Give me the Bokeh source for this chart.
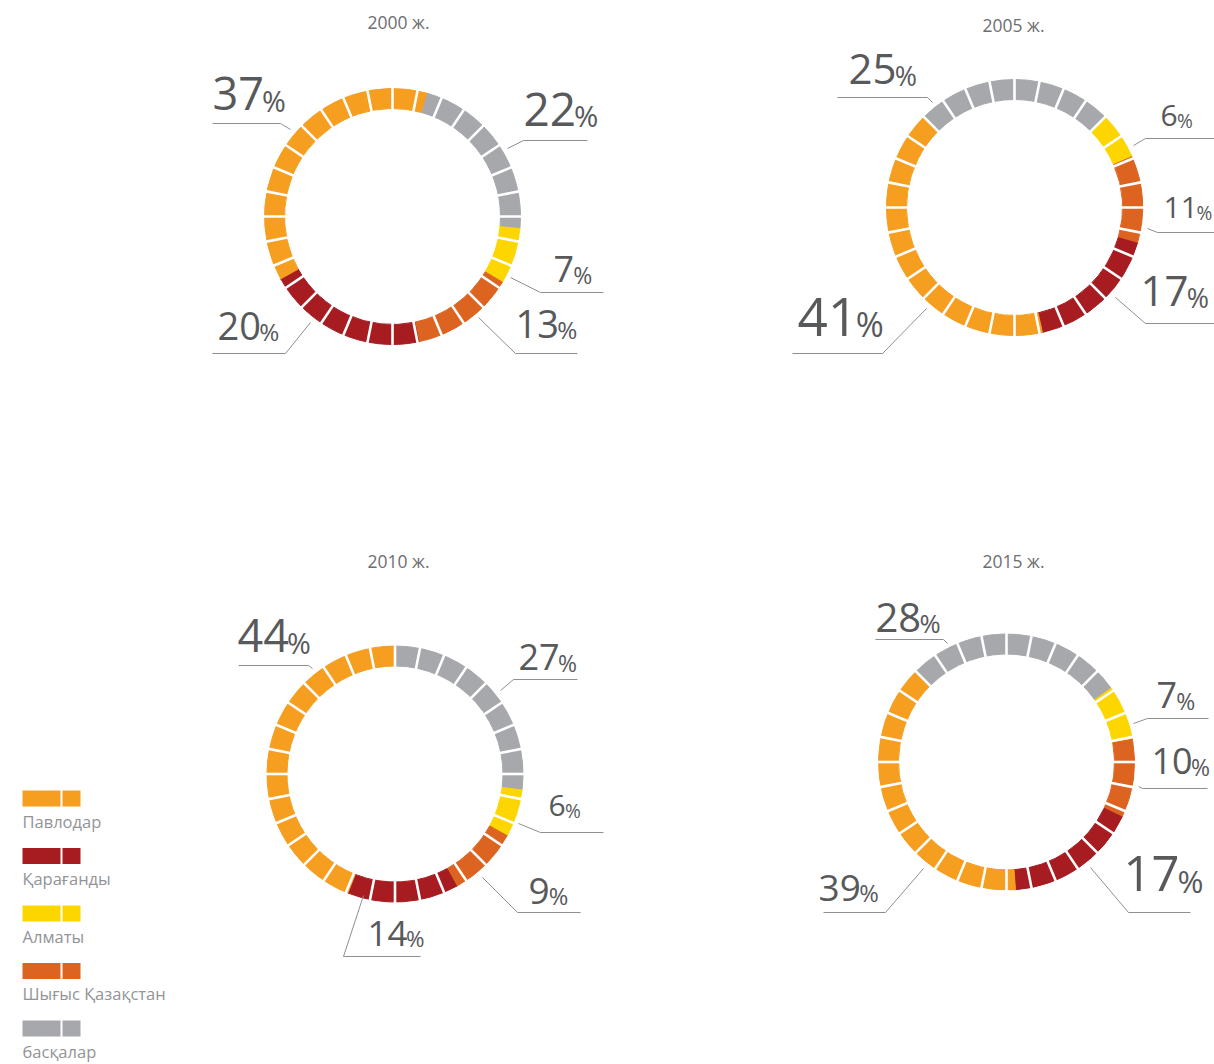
import math
from bokeh.plotting import figure
from bokeh.models import Range1d, ColumnDataSource
from bokeh.core.properties import value
from bokeh.embed import file_html
from bokeh.resources import INLINE

# ---------------- data ----------------
regions = ["Павлодар", "Қарағанды", "Алматы", "Шығыс Қазақстан", "басқалар"]
years = ["2000 ж.", "2005 ж.", "2010 ж.", "2015 ж."]
pavlodar = [37, 41, 44, 39]
karaganda = [20, 17, 14, 17]
almaty = [7, 6, 6, 7]
east_kz = [13, 11, 9, 10]
others = [22, 25, 27, 28]
series = [pavlodar, karaganda, almaty, east_kz, others]

# ---------------- style / layout ----------------
colors = ["#F59E1F", "#A61C21", "#FDD600", "#DC6420", "#A7A8AC"]
ring_order = [4, 2, 3, 1, 0]          # clockwise drawing order
n_seg = 32
r_in, r_out = 108, 128
centers = [(392, 216), (1014, 207), (394.5, 773.5), (1006, 761.5)]
start_deg = [15.4, -45.0, 0.0, -45.0]   # clockwise from 12 o'clock
title_pos = [(398, 28), (1013, 31), (398, 567), (1013, 567)]
BASE_SHIFT = 0.39   # renderer places the alphabetic baseline this far (x font size) too low

# label layout per chart, in region order: (x, baseline, font px, leader polyline)
label_layout = [
    [(212, 111, 45, [(290, 129), (280, 123), (212, 123)]),
     (217, 340, 38, [(310, 322), (285, 353), (212, 353)]),
     (553, 283, 36, [(510, 277), (540, 292), (603, 292)]),
     (515, 338, 38, [(478, 317), (515, 353), (577, 353)]),
     (523, 127, 46, [(507, 148), (523, 140), (587, 140)])],
    [(797, 337, 53, [(926, 308), (882, 353), (792, 353)]),
     (1140, 307, 42, [(1115, 297), (1145, 323), (1214, 323)]),
     (1160, 127, 30, [(1133, 145), (1145, 138), (1214, 138)]),
     (1163, 219, 30, [(1147, 228), (1157, 232), (1214, 232)]),
     (848, 85, 42, [(932, 102), (927, 97), (837, 97)])],
    [(237, 653, 45, [(312, 668), (308, 665), (238, 665)]),
     (367, 947, 35, [(363, 895), (343, 956), (420, 956)]),
     (548, 817, 30, [(518, 823), (540, 832), (603, 832)]),
     (528, 905, 37, [(482, 877), (517, 912), (580, 912)]),
     (518, 671, 36, [(500, 690), (513, 679), (577, 679)])],
    [(818, 902, 37, [(923, 868), (885, 912), (823, 912)]),
     (1123, 892, 49, [(1090, 867), (1128, 912), (1190, 912)]),
     (1156, 709, 36, [(1133, 723), (1147, 718), (1208, 718)]),
     (1151, 775, 36, [(1138, 786), (1142, 788), (1207, 788)]),
     (875, 633, 40, [(947, 643), (943, 639), (875, 639)])],
]

legend_x = 22
legend_y0 = 790
legend_step = 57.5

FONT = value("Open Sans")
W, H = 1214, 1064

p = figure(width=W, height=H, output_backend="svg", toolbar_location=None,
           x_range=Range1d(0, W), y_range=Range1d(-H, 0),
           min_border=0, outline_line_color=None)
p.axis.visible = False
p.grid.visible = False
p.background_fill_color = "white"
p.border_fill_color = "white"

# ---------------- rings ----------------
wx, wy, ws, we, wc = [], [], [], [], []
gx0, gy0, gx1, gy1 = [], [], [], []
for c in range(4):
    cx, cy = centers[c]
    vals = [series[i][c] for i in range(5)]
    total = float(sum(vals))
    theta = start_deg[c]
    for idx in ring_order:
        span = vals[idx] / total * 360.0
        t0, t1 = theta, theta + span
        wx.append(cx); wy.append(-cy)
        ws.append(math.radians(90 - t1)); we.append(math.radians(90 - t0))
        wc.append(colors[idx])
        theta = t1
    for k in range(n_seg):
        a = math.radians(90 - k * 360.0 / n_seg)
        gx0.append(cx + (r_in - 2) * math.cos(a)); gy0.append(-cy + (r_in - 2) * math.sin(a))
        gx1.append(cx + (r_out + 2) * math.cos(a)); gy1.append(-cy + (r_out + 2) * math.sin(a))

p.annular_wedge(x="x", y="y", inner_radius=r_in, outer_radius=r_out,
                start_angle="s", end_angle="e", color="c", direction="anticlock",
                source=ColumnDataSource(dict(x=wx, y=wy, s=ws, e=we, c=wc)))
p.segment(x0=gx0, y0=gy0, x1=gx1, y1=gy1, line_color="white", line_width=2.6)

# ---------------- titles ----------------
tsz = 17.5
p.text(x=[t[0] for t in title_pos], y=[-(t[1] - BASE_SHIFT * tsz) for t in title_pos],
       text=years, text_font=FONT, text_font_size=f"{tsz}px", text_color="#6D6E71",
       text_align="center", text_baseline="alphabetic")

# ---------------- labels ----------------
nx, ny, nt, nsz = [], [], [], []
px, py, psz = [], [], []
lxs, lys = [], []
for c in range(4):
    for i in range(5):
        x, b, sz, pts = label_layout[c][i]
        s = str(series[i][c])
        yb = -(b - BASE_SHIFT * sz)
        nx.append(x); ny.append(yb); nt.append(s); nsz.append(f"{sz}px")
        psize = sz * 0.64
        px.append(x + len(s) * 0.55 * sz)
        py.append(-(b - BASE_SHIFT * psize))
        psz.append(f"{psize:.1f}px")
        lxs.append([q[0] for q in pts]); lys.append([-q[1] for q in pts])

p.multi_line(xs=lxs, ys=lys, line_color="#8E8F92", line_width=1)
p.text(x="x", y="y", text="t", text_font_size="sz", text_font=FONT,
       text_color="#58595B", text_align="left", text_baseline="alphabetic",
       source=ColumnDataSource(dict(x=nx, y=ny, t=nt, sz=nsz)))
p.text(x="x", y="y", text=value("%"), text_font_size="sz", text_font=FONT,
       text_color="#58595B", text_align="left", text_baseline="alphabetic",
       source=ColumnDataSource(dict(x=px, y=py, sz=psz)))

# ---------------- legend ----------------
qx0, qx1, qy0, qy1, qc = [], [], [], [], []
tx, ty = [], []
lsz = 16.5
for i, name in enumerate(regions):
    y0 = legend_y0 + i * legend_step
    for a, bnd in ((legend_x, legend_x + 38), (legend_x + 40, legend_x + 58)):
        qx0.append(a); qx1.append(bnd); qy0.append(-(y0 + 16)); qy1.append(-y0)
        qc.append(colors[i])
    tx.append(legend_x); ty.append(-(y0 + 37 - BASE_SHIFT * lsz))
p.quad(left=qx0, right=qx1, bottom=qy0, top=qy1, color=qc, line_color=None)
p.text(x=tx, y=ty, text=regions, text_font=FONT, text_font_size=f"{lsz}px",
       text_color="#929497", text_align="left", text_baseline="alphabetic")

open("out.html", "w").write(file_html(p, INLINE))
